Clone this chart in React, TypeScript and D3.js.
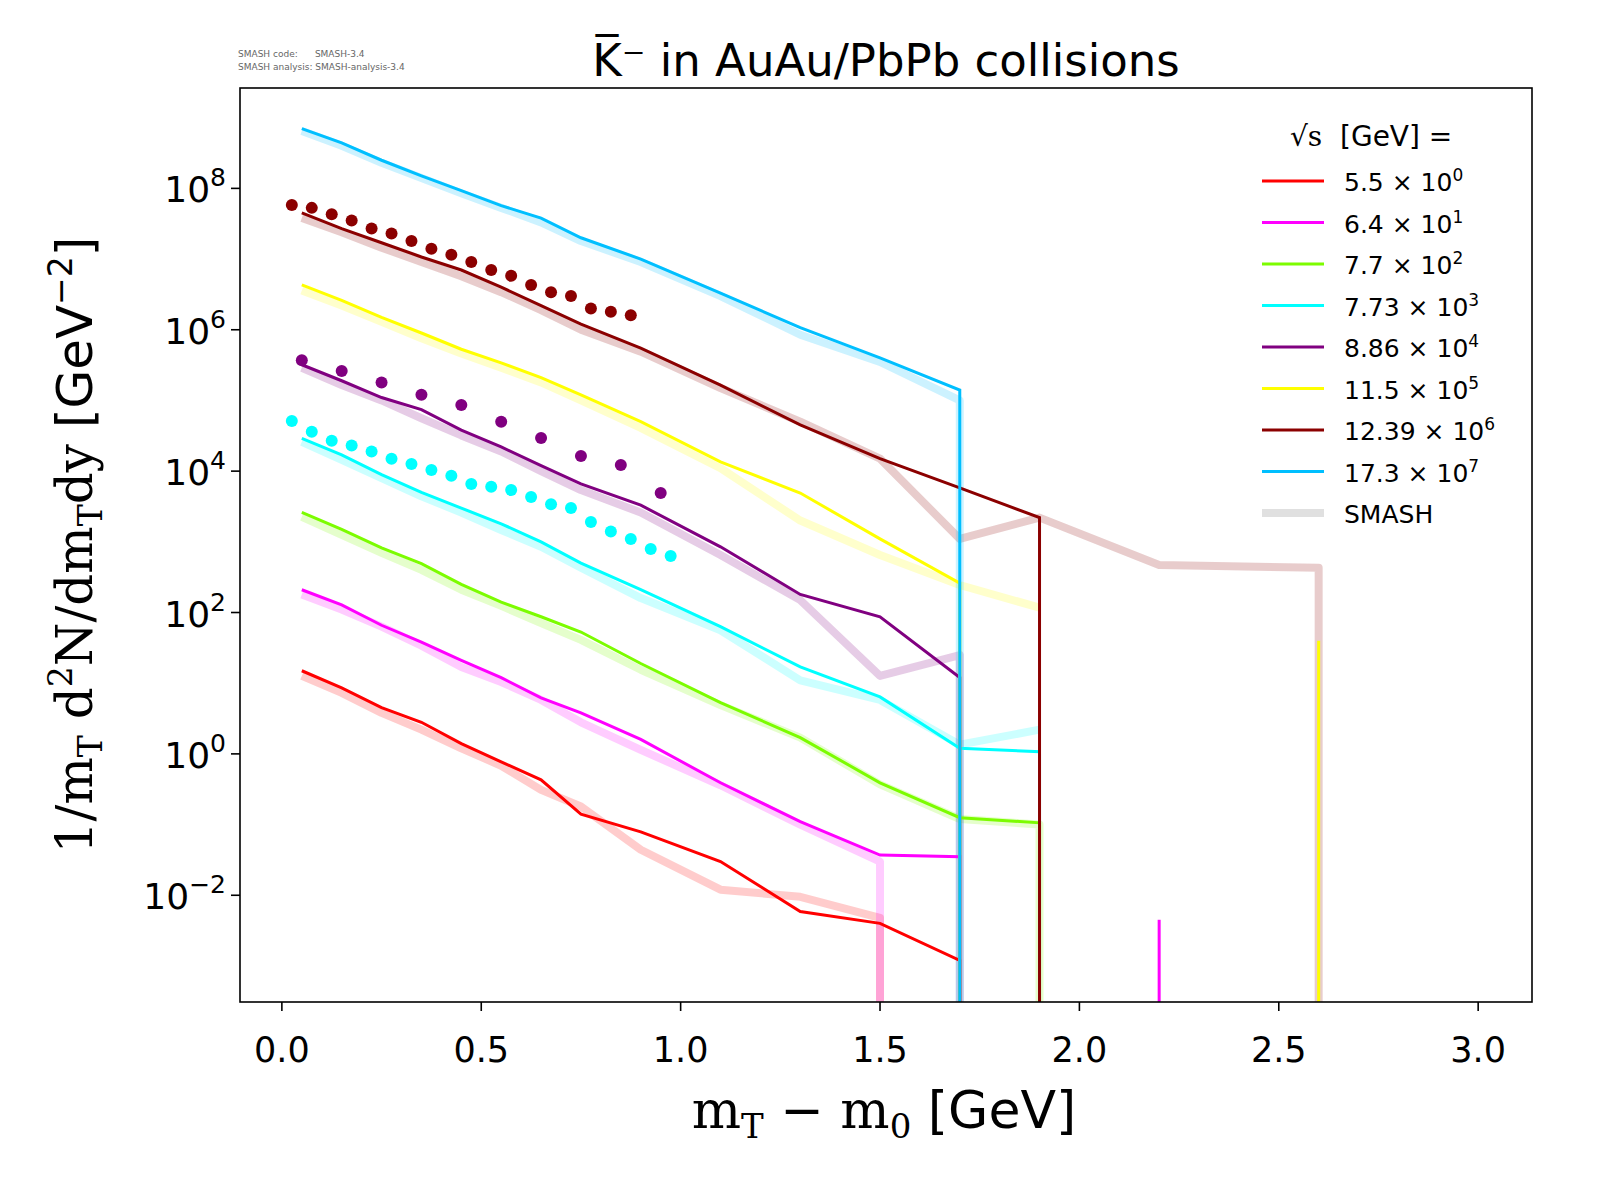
import React, { useRef, useEffect } from 'react';
import * as d3 from 'd3';

// zero yields (drop to axis) are written as 1e-10 and clipped
const Z = 1e-10;
const xBins = [0.05, 0.15, 0.25, 0.35, 0.45, 0.55, 0.65, 0.75, 0.9, 1.1, 1.3, 1.5, 1.7, 1.9, 2.2, 2.6];

const energies = ['5.5', '6.4', '7.7', '7.73', '8.86', '11.5', '12.39', '17.3'];
const powers = ['0', '1', '2', '3', '4', '5', '6', '7'];
const colors = ['#ff0000', '#ff00ff', '#7cfc00', '#00ffff', '#800080', '#ffff00', '#8b0000', '#00bfff'];

// measured (thin) lines, values per xBins (null = no point)
const dataLines: (number | null)[][] = [
  [15, 8.6, 4.5, 2.8, 1.4, 0.77, 0.43, 0.14, 0.079, 0.03, 0.0059, 0.004, 0.0012, null, null, null],
  [210, 128, 66, 38, 21, 12, 6.2, 3.8, 1.6, 0.39, 0.11, 0.037, 0.035, null, null, null],
  [2600, 1500, 820, 490, 250, 140, 87, 53, 19, 5.3, 1.7, 0.39, 0.125, 0.106, null, null],
  [29000, 17000, 8900, 5000, 3000, 1800, 1000, 500, 210, 63, 17, 6.4, 1.2, 1.07, null, null],
  [3.2e5, 1.9e5, 1.1e5, 7.4e4, 3.8e4, 2.2e4, 1.2e4, 6600, 3300, 850, 180, 87, 12, null, null, null],
  [4.3e6, 2.6e6, 1.5e6, 9e5, 5.3e5, 3.4e5, 2.1e5, 1.2e5, 5e4, 1.35e4, 4900, 1100, 260, null, null, null],
  [4.5e7, 2.7e7, 1.7e7, 1.07e7, 7e6, 4e6, 2.2e6, 1.2e6, 5.5e5, 1.65e5, 4.5e4, 1.5e4, 5800, 2200, null, null],
  [7e8, 4.4e8, 2.5e8, 1.5e8, 9.3e7, 5.7e7, 3.8e7, 2e7, 1e7, 3.3e6, 1.07e6, 4e5, 1.4e5, null, null, null],
];
// where each measured line falls to zero
const dataDropX = [1.7, 1.7, 1.9, 1.9, 1.7, 1.7, 1.9, 1.7];
// isolated vertical spikes
const spikes = [
  { series: 1, x: 2.2, top: 0.0045 },
  { series: 5, x: 2.6, top: 40 },
];

// SMASH (thick, faded) lines
const smashLines: (number | null)[][] = [
  [12.7, 7.3, 3.8, 2.2, 1.2, 0.68, 0.31, 0.18, 0.044, 0.012, 0.0095, 0.0048, null, null, null, null],
  [180, 110, 63, 34, 17, 10.4, 5.8, 2.8, 1.14, 0.36, 0.1, 0.03, null, null, null, null],
  [2250, 1250, 700, 400, 210, 124, 71, 41, 15.5, 4.9, 1.7, 0.37, 0.12, 0.1, null, null],
  [2.6e4, 1.44e4, 8000, 4400, 2600, 1470, 850, 430, 160, 56, 11, 5.8, 1.35, 2.2, null, null],
  [2.9e5, 1.65e5, 1e5, 5.6e4, 3.2e4, 1.9e4, 1e4, 5400, 2600, 650, 150, 12.7, 25, null, null, null],
  [3.6e6, 2.2e6, 1.3e6, 7.6e5, 4.6e5, 2.9e5, 1.8e5, 1e5, 4.1e4, 1.1e4, 2000, 650, 245, 117, null, null],
  [3.8e7, 2.4e7, 1.45e7, 9.1e6, 5.7e6, 3.4e6, 1.9e6, 1e6, 4.9e5, 1.5e5, 5e4, 1.5e4, 1100, 2200, 470, 430],
  [6.5e8, 4e8, 2.3e8, 1.4e8, 8.5e7, 5.3e7, 3.3e7, 1.8e7, 9.1e6, 3e6, 8.5e5, 3.5e5, 1e5, null, null, null],
];
const smashDropX = [1.5, 1.5, 1.9, null, 1.7, null, 2.6, 1.7];

// experimental points
const brownDotsX = [0.025, 0.075, 0.125, 0.175, 0.225, 0.275, 0.325, 0.375, 0.425, 0.475, 0.525, 0.575, 0.625, 0.675, 0.725, 0.775, 0.825, 0.875];
const brownDotsY = [5.8e7, 5.3e7, 4.3e7, 3.5e7, 2.7e7, 2.3e7, 1.8e7, 1.4e7, 1.15e7, 9.1e6, 7.0e6, 5.8e6, 4.3e6, 3.4e6, 3.0e6, 2.0e6, 1.8e6, 1.6e6];
const purpleDotsX = [0.05, 0.15, 0.25, 0.35, 0.45, 0.55, 0.65, 0.75, 0.85, 0.95];
const purpleDotsY = [3.7e5, 2.6e5, 1.8e5, 1.2e5, 8.6e4, 5.0e4, 2.95e4, 1.64e4, 1.22e4, 4900];
const cyanDotsX = [0.025, 0.075, 0.125, 0.175, 0.225, 0.275, 0.325, 0.375, 0.425, 0.475, 0.525, 0.575, 0.625, 0.675, 0.725, 0.775, 0.825, 0.875, 0.925, 0.975];
const cyanDotsY = [5.1e4, 3.6e4, 2.7e4, 2.3e4, 1.9e4, 1.5e4, 1.26e4, 1.04e4, 8600, 6600, 6000, 5400, 4300, 3400, 3000, 1900, 1400, 1100, 790, 630];

const xTicks = [0, 0.5, 1.0, 1.5, 2.0, 2.5, 3.0];
const yTickExps = [-2, 0, 2, 4, 6, 8];

export default function App(): JSX.Element {
  const svgRef = useRef<SVGSVGElement>(null);
  useEffect(() => {
    const el = svgRef.current;
    if (el == null) return;
    const svg = d3.select(el);
    svg.selectAll('*').remove();
    const L = 240, R = 1532, T = 88, B = 1002;
    const x = d3.scaleLinear().domain([-0.105, 3.135]).range([L, R]);
    const y = d3.scaleLog().domain([Math.pow(10, -3.51), Math.pow(10, 9.42)]).range([B, T]);
    const font = 'DejaVu Sans, sans-serif';
    const sf = 'DejaVu Serif, serif';

    svg.append('defs').append('clipPath').attr('id', 'pc')
      .append('rect').attr('x', L).attr('y', T).attr('width', R - L).attr('height', B - T);
    const g = svg.append('g').attr('clip-path', 'url(#pc)');

    const yy = (v: number) => Math.min(y(Math.max(v, 1e-12)), B + 50);
    const line = d3.line<[number, number]>().x((d) => x(d[0])).y((d) => yy(d[1]));
    const pts = (vals: (number | null)[], drop: number | null) => {
      const p: [number, number][] = [];
      vals.forEach((v, i) => { if (v != null) p.push([xBins[i], v]); });
      if (drop != null) p.push([drop, Z]);
      return p;
    };

    smashLines.forEach((vals, i) => {
      g.append('path').attr('d', line(pts(vals, smashDropX[i]))!).attr('fill', 'none')
        .attr('stroke', colors[i]).attr('stroke-opacity', 0.2).attr('stroke-width', 8).attr('stroke-linejoin', 'round');
    });
    dataLines.forEach((vals, i) => {
      g.append('path').attr('d', line(pts(vals, dataDropX[i]))!).attr('fill', 'none')
        .attr('stroke', colors[i]).attr('stroke-width', 3);
    });
    spikes.forEach((s) => {
      g.append('path').attr('d', line([[s.x, s.top], [s.x, Z]])!).attr('fill', 'none')
        .attr('stroke', colors[s.series]).attr('stroke-width', 3);
    });
    const dots = (xs: number[], ys: number[], c: string) => {
      g.selectAll(null).data(xs).join('circle').attr('cx', (d) => x(d)).attr('cy', (_d, i) => y(ys[i]))
        .attr('r', 6).attr('fill', c);
    };
    dots(brownDotsX, brownDotsY, colors[6]);
    dots(purpleDotsX, purpleDotsY, colors[4]);
    dots(cyanDotsX, cyanDotsY, colors[3]);

    svg.append('rect').attr('x', L).attr('y', T).attr('width', R - L).attr('height', B - T)
      .attr('fill', 'none').attr('stroke', '#000').attr('stroke-width', 1.6);

    xTicks.forEach((t) => {
      svg.append('line').attr('x1', x(t)).attr('x2', x(t)).attr('y1', B).attr('y2', B + 9).attr('stroke', '#000').attr('stroke-width', 1.6);
      svg.append('text').attr('x', x(t)).attr('y', B + 60).attr('text-anchor', 'middle')
        .attr('font-family', font).attr('font-size', 35).text(t.toFixed(1));
    });
    yTickExps.forEach((e) => {
      const py = y(Math.pow(10, e));
      svg.append('line').attr('x1', L - 9).attr('x2', L).attr('y1', py).attr('y2', py).attr('stroke', '#000').attr('stroke-width', 1.6);
      const t = svg.append('text').attr('x', L - 14).attr('y', py + 14).attr('text-anchor', 'end')
        .attr('font-family', font).attr('font-size', 36);
      t.append('tspan').text('10');
      t.append('tspan').attr('dy', -16).attr('font-size', 25).text(e < 0 ? '\u2212' + -e : String(e));
    });

    // title and tags
    svg.append('text').attr('x', 886).attr('y', 76).attr('text-anchor', 'middle')
      .attr('font-family', font).attr('font-size', 45).text('K\u0305\u207B in AuAu/PbPb collisions');
    svg.append('text').attr('x', 238).attr('y', 57).attr('font-family', font).attr('font-size', 9).attr('fill', '#666')
      .attr('xml:space', 'preserve').text('SMASH code:      SMASH-3.4');
    svg.append('text').attr('x', 238).attr('y', 70).attr('font-family', font).attr('font-size', 9).attr('fill', '#666')
      .text('SMASH analysis: SMASH-analysis-3.4');

    // x label
    const xl = svg.append('text').attr('x', 884).attr('y', 1128).attr('text-anchor', 'middle').attr('font-size', 52);
    xl.append('tspan').attr('font-family', sf).text('m');
    xl.append('tspan').attr('font-family', sf).attr('font-size', 34).attr('dy', 10).text('T');
    xl.append('tspan').attr('font-family', sf).attr('dy', -10).text(' \u2212 m');
    xl.append('tspan').attr('font-family', sf).attr('font-size', 34).attr('dy', 10).text('0');
    xl.append('tspan').attr('font-family', font).attr('dy', -10).text(' [GeV]');

    // y label
    const yl = svg.append('text').attr('transform', 'translate(92,545) rotate(-90)').attr('text-anchor', 'middle').attr('font-size', 50);
    yl.append('tspan').attr('font-family', sf).text('1/m');
    yl.append('tspan').attr('font-family', sf).attr('font-size', 33).attr('dy', 10).text('T');
    yl.append('tspan').attr('font-family', sf).attr('dy', -10).text(' d');
    yl.append('tspan').attr('font-family', sf).attr('font-size', 33).attr('dy', -20).text('2');
    yl.append('tspan').attr('font-family', sf).attr('dy', 20).text('N/dm');
    yl.append('tspan').attr('font-family', sf).attr('font-size', 33).attr('dy', 10).text('T');
    yl.append('tspan').attr('font-family', sf).attr('dy', -10).text('dy ');
    yl.append('tspan').attr('font-family', font).text('[GeV');
    yl.append('tspan').attr('font-family', font).attr('font-size', 33).attr('dy', -20).text('\u22122');
    yl.append('tspan').attr('font-family', font).attr('dy', 20).text(']');

    // legend
    const lg = svg.append('g');
    const hd = lg.append('text').attr('x', 1290).attr('y', 146).attr('font-size', 28).attr('xml:space', 'preserve');
    hd.append('tspan').attr('font-family', sf).text('\u221As');
    hd.append('tspan').attr('font-family', font).text('  [GeV] =');
    energies.forEach((en, i) => {
      const ly = 181 + i * 41.5;
      lg.append('line').attr('x1', 1262).attr('x2', 1324).attr('y1', ly).attr('y2', ly).attr('stroke', colors[i]).attr('stroke-width', 3);
      const t = lg.append('text').attr('x', 1344).attr('y', ly + 10).attr('font-family', font).attr('font-size', 25);
      t.append('tspan').text(en + ' \u00D7 10');
      t.append('tspan').attr('dy', -10).attr('font-size', 17).text(powers[i]);
    });
    const sy = 181 + 8 * 41.5;
    lg.append('line').attr('x1', 1262).attr('x2', 1324).attr('y1', sy).attr('y2', sy).attr('stroke', '#000').attr('stroke-opacity', 0.12).attr('stroke-width', 8);
    lg.append('text').attr('x', 1344).attr('y', sy + 10).attr('font-family', font).attr('font-size', 25).text('SMASH');
  }, []);
  return <svg ref={svgRef} width={1600} height={1200} style={{ position: 'absolute', left: 0, top: 0, background: '#fff' }} />;
}
